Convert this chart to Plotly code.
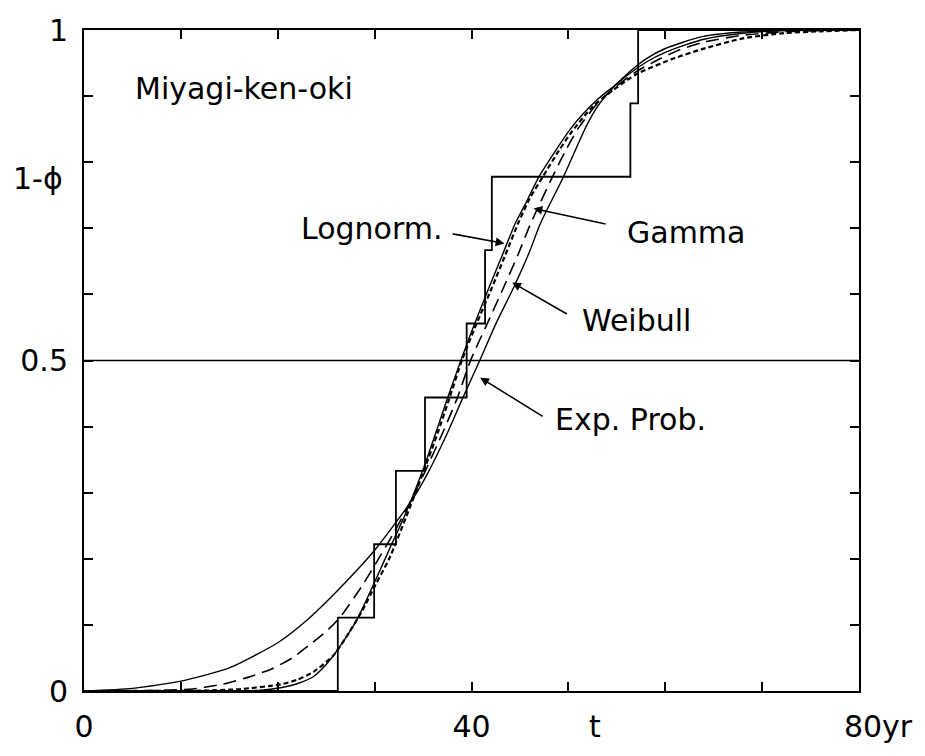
import plotly.graph_objects as go

# ---- data ----
STEP_T = [0, 26.2, 29.95, 32.2, 35.2, 39.5, 41.4, 42.1, 56.4, 57.2, 80]
STEP_V = [0, 0.111, 0.222, 0.333, 0.444, 0.556, 0.667, 0.778, 0.889, 1.0, 1.0]

WEIBULL_T = [0, 5, 10, 15, 20, 23, 25.7, 28, 30, 32.2, 34, 35.5, 37.5, 39, 40.85, 42.5,
             44.4, 46, 47.1, 49.5, 51.8, 53.0, 54.7, 56.5, 58.1, 60, 63.8, 67.9, 72, 76, 80]
WEIBULL_V = [0, 0.004, 0.015, 0.035, 0.073, 0.107, 0.145, 0.180, 0.213, 0.255, 0.292, 0.330,
             0.390, 0.440, 0.500, 0.555, 0.612, 0.665, 0.707, 0.778, 0.853, 0.884, 0.914,
             0.939, 0.957, 0.972, 0.990, 0.997, 0.999, 1.0, 1.0]

GAMMA_T = [0, 8, 11.2, 14.2, 17, 19.3, 21.5, 23.3, 25, 26.4, 28.7, 30.2, 32, 33.3, 35.2, 37,
           38.5, 39.9, 41.6, 43.3, 44.8, 46.1, 48.4, 49.8, 51.1, 53, 54.7, 57, 59.4, 61.5,
           63.8, 67.9, 72, 76, 80]
GAMMA_V = [0, 0.001, 0.003, 0.010, 0.021, 0.033, 0.050, 0.070, 0.090, 0.111, 0.159, 0.195,
           0.240, 0.275, 0.332, 0.390, 0.442, 0.500, 0.555, 0.610, 0.660, 0.707, 0.779,
           0.820, 0.853, 0.889, 0.912, 0.937, 0.956, 0.970, 0.981, 0.992, 0.997, 0.999, 1.0]

LOGNORM_T = [0, 12, 16.2, 20.3, 22, 23.7, 25.7, 27, 28.7, 30.1, 31.5, 33.3, 35, 36.5, 37.7,
             39.0, 40.5, 42.1, 43.5, 44.8, 46, 47.4, 49, 50.4, 52.5, 54.7, 57, 60.7, 63.8,
             67.9, 72, 76, 80]
LOGNORM_V = [0, 0.0005, 0.003, 0.010, 0.017, 0.029, 0.053, 0.080, 0.121, 0.161, 0.200, 0.265,
             0.330, 0.390, 0.442, 0.500, 0.555, 0.610, 0.660, 0.707, 0.745, 0.779, 0.817,
             0.847, 0.884, 0.910, 0.933, 0.956, 0.971, 0.987, 0.995, 0.998, 1.0]

EXPPROB_T = [0, 15, 18, 20.3, 22, 23.7, 25, 26.2, 28.1, 30.1, 31.7, 33.3, 35, 36.3, 37.5,
             38.9, 40.3, 41.8, 43.2, 44.5, 45.5, 47.0, 48.7, 50.2, 51.5, 53.0, 54.7, 56.5,
             58.1, 60, 62, 64, 68, 72, 80]
EXPPROB_V = [0, 0.0, 0.001, 0.005, 0.011, 0.022, 0.040, 0.063, 0.106, 0.168, 0.220, 0.272,
             0.335, 0.390, 0.442, 0.500, 0.555, 0.610, 0.660, 0.707, 0.735, 0.779, 0.818,
             0.850, 0.873, 0.895, 0.915, 0.936, 0.952, 0.966, 0.977, 0.986, 0.995, 0.999, 1.0]

HALF_LEVEL = 0.5

X_TICKS = [0, 10, 20, 30, 40, 50, 60, 70, 80]
X_TICKTEXT = ["0", "", "", "", "40", "", "", "", "\u00a0\u00a0\u00a0\u00a080yr"]
Y_TICKS = [0, 0.1, 0.2, 0.3, 0.4, 0.5, 0.6, 0.7, 0.8, 0.9, 1.0]
Y_TICKTEXT = ["0", "", "", "", "", "0.5", "", "", "", "", "1"]

FONT = "DejaVu Sans"

fig = go.Figure()

fig.add_trace(go.Scatter(x=STEP_T, y=STEP_V, mode="lines", name="Observed",
                         line=dict(color="black", width=1.8, shape="hv")))
fig.add_trace(go.Scatter(x=WEIBULL_T, y=WEIBULL_V, mode="lines", name="Weibull",
                         line=dict(color="black", width=1.4, shape="spline", smoothing=0.6)))
fig.add_trace(go.Scatter(x=EXPPROB_T, y=EXPPROB_V, mode="lines", name="Exp. Prob.",
                         line=dict(color="black", width=1.4, shape="spline", smoothing=0.6)))
fig.add_trace(go.Scatter(x=GAMMA_T, y=GAMMA_V, mode="lines", name="Gamma",
                         line=dict(color="black", width=1.6, dash="13px,7px",
                                   shape="spline", smoothing=0.6)))
fig.add_trace(go.Scatter(x=LOGNORM_T, y=LOGNORM_V, mode="lines", name="Lognorm.",
                         line=dict(color="black", width=2.2, dash="5px,3px",
                                   shape="spline", smoothing=0.6)))

fig.add_hline(y=HALF_LEVEL, line=dict(color="black", width=1.6))

tf = dict(family=FONT, size=30, color="black")

def label(text, x, y):
    fig.add_annotation(x=x, y=y, xref="x", yref="y", text=text, showarrow=False,
                       xanchor="left", yanchor="middle", font=tf)

def arrow(x0, y0, x1, y1):
    fig.add_annotation(x=x1, y=y1, ax=x0, ay=y0, xref="x", yref="y", axref="x", ayref="y",
                       text="", showarrow=True, arrowhead=2, arrowsize=1.1,
                       arrowwidth=1.6, arrowcolor="black")

label("Miyagi-ken-oki", 5.1, 0.911)
label("Lognorm.", 22.2, 0.699)
arrow(37.9, 0.692, 43.4, 0.677)
label("Gamma", 55.8, 0.693)
arrow(54.0, 0.706, 46.4, 0.730)
label("Weibull", 51.2, 0.561)
arrow(50.0, 0.569, 44.2, 0.618)
label("Exp. Prob.", 48.4, 0.411)
arrow(47.5, 0.414, 40.9, 0.474)

fig.add_annotation(x=-0.06, y=0.775, xref="paper", yref="paper", text="1-\u03d5",
                   showarrow=False, xanchor="center", yanchor="middle", font=tf)
fig.add_annotation(x=52.7, y=-0.053, xref="x", yref="paper", text="t",
                   showarrow=False, xanchor="center", yanchor="middle", font=tf)

axis_common = dict(showline=True, linecolor="black", linewidth=2, mirror="ticks",
                   ticks="inside", ticklen=9, tickwidth=1.6, tickcolor="black",
                   showgrid=False, zeroline=False, tickfont=tf, ticklabeloverflow="allow")

fig.update_xaxes(range=[0, 80], tickvals=X_TICKS, ticktext=X_TICKTEXT,
                 ticklabelstandoff=8, **axis_common)
fig.update_yaxes(range=[0, 1], tickvals=Y_TICKS, ticktext=Y_TICKTEXT,
                 ticklabelstandoff=8, **axis_common)

fig.update_layout(width=925, height=756, margin=dict(l=84, r=52, t=23, b=39),
                  paper_bgcolor="white", plot_bgcolor="white", showlegend=False,
                  font=dict(family=FONT, color="black"))

fig.write_html("out.html")
